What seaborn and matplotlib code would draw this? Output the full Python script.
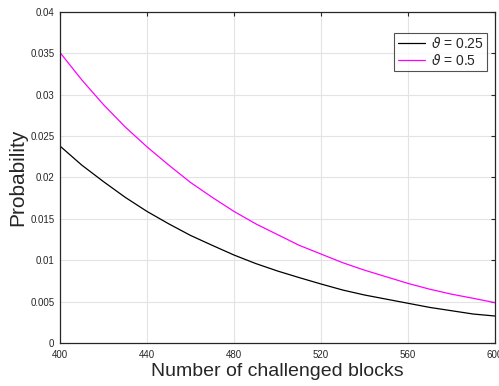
import pandas as pd
import seaborn as sns
import matplotlib.pyplot as plt

# values
blocks = [400, 410, 420, 430, 440, 450, 460, 470, 480, 490, 500,
          510, 520, 530, 540, 550, 560, 570, 580, 590, 600]
prob_025 = [0.0238, 0.0215, 0.0195, 0.0176, 0.0159, 0.0144, 0.0130, 0.0118, 0.01063, 0.0096, 0.0087,
            0.0079, 0.00713, 0.0064, 0.0058, 0.0053, 0.0048, 0.0043, 0.0039, 0.0035, 0.00326]
prob_05 = [0.0351, 0.0318, 0.0288, 0.0261, 0.0237, 0.0215, 0.0194, 0.0176, 0.0159, 0.0144, 0.0131,
           0.0118, 0.01075, 0.0097, 0.0088, 0.0080, 0.0072, 0.0065, 0.0059, 0.0054, 0.00487]
labels = [r'$\vartheta$ = 0.25', r'$\vartheta$ = 0.5']

df = pd.DataFrame({
    'blocks': blocks * 2,
    'prob': prob_025 + prob_05,
    'theta': [labels[0]] * len(blocks) + [labels[1]] * len(blocks),
})

sns.set_style("whitegrid")
plt.rcParams['font.family'] = ['Liberation Sans', 'DejaVu Sans']
plt.rcParams['mathtext.fontset'] = 'dejavusans'

fig = plt.figure(figsize=(4.99, 3.86), dpi=100)
ax = fig.add_axes([0.1202, 0.1114, 0.8718, 0.8576])
sns.lineplot(data=df, x='blocks', y='prob', hue='theta',
             palette=['black', '#ff00ff'], linewidth=0.9, ax=ax)

ax.set_xlim(400, 600)
ax.set_ylim(0, 0.04)
ax.set_xticks([400, 440, 480, 520, 560, 600])
ax.set_yticks([0, 0.005, 0.01, 0.015, 0.02, 0.025, 0.03, 0.035, 0.04])
ax.set_yticklabels(['0', '0.005', '0.01', '0.015', '0.02', '0.025', '0.03', '0.035', '0.04'])
ax.tick_params(direction='in', length=3, width=0.8, labelsize=7, colors='#262626',
               top=True, right=True)
ax.tick_params(axis='x', pad=5)
ax.tick_params(axis='y', pad=4)
ax.grid(True, color='#e3e3e3', linewidth=0.8)
for s in ax.spines.values():
    s.set_color('#262626')
    s.set_linewidth(0.9)

ax.set_xlabel('Number of challenged blocks', fontsize=14, color='#262626', labelpad=2)
ax.set_ylabel('Probability', fontsize=15, color='#262626', labelpad=2)

leg = ax.legend(loc='upper right', bbox_to_anchor=(0.982, 0.937), borderaxespad=0,
                fontsize=10, frameon=True, fancybox=False, edgecolor='#262626',
                handlelength=2.0, borderpad=0.25, labelspacing=0.12, handletextpad=0.4)
leg.get_frame().set_linewidth(0.8)

fig.savefig('out.png', dpi=100)
